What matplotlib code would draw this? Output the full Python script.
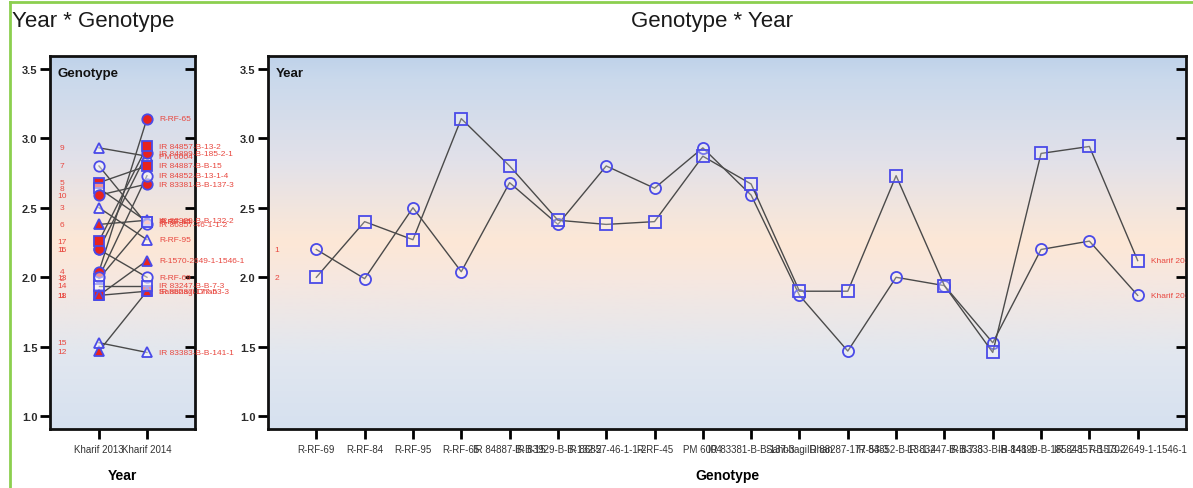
import numpy as np
import matplotlib
matplotlib.use("Agg")
import matplotlib.pyplot as plt
from matplotlib.colors import LinearSegmentedColormap
from matplotlib.lines import Line2D

plt.rcParams['font.family'] = ['Liberation Sans', 'DejaVu Sans']

# ------------------------------------------------------------
# Données
# ------------------------------------------------------------
genotypes = ["R-RF-69", "R-RF-84", "R-RF-95", "R-RF-65", "IR 84887-B-B-15",
             "IR 83929-B-B-132-2", "IR 86857-46-1-1-2", "R-RF-45", "PM 6004",
             "IR 83381-B-B-137-3", "Sahbhagi Dhan", "IR 88287-177-53-3",
             "IR 84852-B-13-1-4", "IR 83247-B-B-7-3", "IR 83383-B-B-141-1",
             "IR 84899-B-185-2-1", "IR 84857-B-13-2", "R-1570-2649-1-1546-1"]
years = ["Kharif 2013", "Kharif 2014"]
kharif_2013 = [2.20, 1.99, 2.50, 2.04, 2.68, 2.38, 2.80, 2.64, 2.93,
               2.59, 1.87, 1.47, 2.00, 1.94, 1.53, 2.20, 2.26, 1.87]
kharif_2014 = [2.00, 2.40, 2.27, 3.14, 2.80, 2.41, 2.38, 2.40, 2.87,
               2.67, 1.90, 1.90, 2.73, 1.94, 1.46, 2.89, 2.94, 2.12]
y_ticks = [1.0, 1.5, 2.0, 2.5, 3.0, 3.5]

BLUE = '#4a4ae8'
RED = '#e8231e'
LINE = '#4a4a4a'
LABEL_RED = '#e8473f'

# haut -> bas
bg_cmap = LinearSegmentedColormap.from_list('bg', [
    (0.00, '#bfd2ea'), (0.06, '#cad9ec'), (0.28, '#e2e1e9'),
    (0.50, '#fde8d6'), (0.60, '#f6e7e0'), (0.80, '#e2e7ef'),
    (1.00, '#d6e1f0')])


def style_axes(ax, xlim, ylim):
    # fond en dégradé vertical (ligne 0 = haut)
    grad = np.linspace(0, 1, 256).reshape(-1, 1)
    ax.imshow(grad, cmap=bg_cmap, aspect='auto', zorder=0, origin='upper',
              extent=[xlim[0], xlim[1], ylim[0], ylim[1]])
    ax.set_xlim(*xlim)
    ax.set_ylim(*ylim)
    for s in ax.spines.values():
        s.set_linewidth(2)
        s.set_color('#111111')
    ax.set_yticks(y_ticks)
    ax.set_yticklabels([f"{v:.1f}" for v in y_ticks], fontsize=8,
                       fontweight='bold', color='#2a2a2a')
    ax.tick_params(axis='y', which='both', direction='out', length=7,
                   width=2, right=True, pad=2)
    ax.tick_params(axis='x', direction='out', length=7, width=2, pad=4)
    # ticks de droite vers l'intérieur
    for t in ax.yaxis.get_major_ticks():
        t.tick2line.set_marker(matplotlib.lines.TICKLEFT)


fig = plt.figure(figsize=(11.93, 4.89), dpi=100)
W, H = 1193, 489

# ============================================================
# Year * Genotype
# ============================================================
ax1 = fig.add_axes([50 / W, 1 - 430 / H, 145 / W, 373 / H])
style_axes(ax1, (-1.02, 2.0), (0.91, 3.59))

shapes = ['o', 's', '^']
for i, (a, b) in enumerate(zip(kharif_2013, kharif_2014)):
    ax1.plot([0, 1], [a, b], color=LINE, lw=1, zorder=2)
for i, (a, b) in enumerate(zip(kharif_2013, kharif_2014)):
    filled = (i // 3) % 2 == 1
    ax1.plot([0, 1], [a, b], ls='none', marker=shapes[i % 3], ms=7.5,
             mec=BLUE, mew=1.3, mfc=RED if filled else '#ffffff80', zorder=3)
    ax1.text(-0.77, a, str(i + 1), color=LABEL_RED, fontsize=6,
             ha='center', va='center', zorder=4)
    ax1.text(1.25, b, genotypes[i], color=LABEL_RED, fontsize=6,
             ha='left', va='center', clip_on=False, zorder=4)

ax1.set_xticks([0, 1])
ax1.set_xticklabels(years, fontsize=7, color='#333333')
ax1.set_xlabel("Year", fontsize=10, fontweight='bold', labelpad=10)
ax1.text(0.05, 0.97, "Genotype", transform=ax1.transAxes, fontsize=9.5,
         fontweight='bold', va='top', color='#111111')

# ============================================================
# Genotype * Year
# ============================================================
ax2 = fig.add_axes([268 / W, 1 - 430 / H, 918 / W, 373 / H])
style_axes(ax2, (0, 19), (0.91, 3.59))

x = np.arange(1, len(genotypes) + 1)
ax2.plot(x, kharif_2013, color=LINE, lw=1, marker='o', ms=8,
         mec=BLUE, mew=1.3, mfc='#ffffff40', zorder=3)
ax2.plot(x, kharif_2014, color=LINE, lw=1, marker='s', ms=8,
         mec=BLUE, mew=1.3, mfc='#ffffff40', zorder=3)

ax2.text(0.19, kharif_2013[0], "1", color=LABEL_RED, fontsize=6,
         ha='center', va='center')
ax2.text(0.19, kharif_2014[0], "2", color=LABEL_RED, fontsize=6,
         ha='center', va='center')
ax2.text(18.27, kharif_2014[-1], "Kharif 2014", color=LABEL_RED, fontsize=6,
         ha='left', va='center', clip_on=True)
ax2.text(18.27, kharif_2013[-1], "Kharif 2013", color=LABEL_RED, fontsize=6,
         ha='left', va='center', clip_on=True)

ax2.set_xticks(x)
ax2.set_xticklabels(genotypes, fontsize=7, color='#333333')
ax2.set_xlabel("Genotype", fontsize=10, fontweight='bold', labelpad=10)
ax2.text(0.008, 0.97, "Year", transform=ax2.transAxes, fontsize=9.5,
         fontweight='bold', va='top', color='#111111')

# titres
fig.text(12 / W, 1 - 22 / H, "Year * Genotype", fontsize=16,
         ha='left', va='center', color='#1a1a1a')
fig.text(712 / W, 1 - 22 / H, "Genotype * Year", fontsize=16,
         ha='center', va='center', color='#1a1a1a')

# cadre vert
fig.add_artist(Line2D([10 / W, 10 / W], [0, 1 - 3 / H], color='#8ccf4f',
                      lw=2, transform=fig.transFigure))
fig.add_artist(Line2D([10 / W, 1], [1 - 3 / H, 1 - 3 / H], color='#8ccf4f',
                      lw=2, transform=fig.transFigure))

fig.savefig("out.png", dpi=100)
